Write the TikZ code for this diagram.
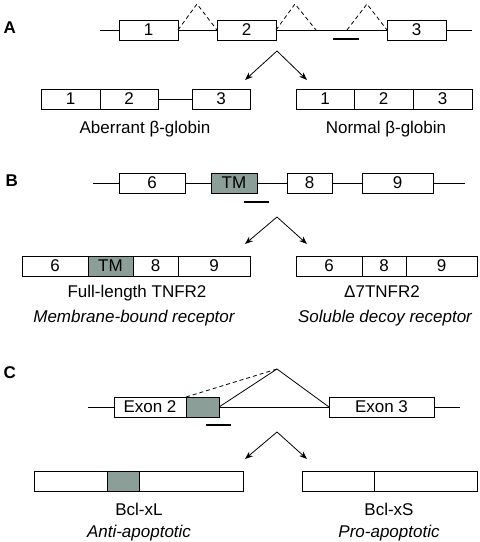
\documentclass[tikz,border=0pt]{standalone}
\usepackage{fontspec}
\setmainfont{Liberation Sans}
\usepackage{tikz}
\usetikzlibrary{arrows.meta}
\usetikzlibrary{positioning}
\definecolor{tmgray}{RGB}{140,158,152}
\tikzset{
    exon/.style={
        draw,
        rectangle,
        fill=white,
        minimum height=20pt,
        inner sep=0pt,
        outer sep=0pt,
        line width=0.9pt,
        font=\fontsize{17}{20}\selectfont
    },
    tmexon/.style={exon, fill=tmgray},
    panel/.style={font=\fontsize{17}{20}\selectfont\bfseries},
    caption/.style={anchor=base, font=\fontsize{17}{20}\selectfont},
    role/.style={anchor=base, font=\fontsize{17}{20}\selectfont\itshape},
    splice/.style={line width=0.8pt, dash pattern=on 4pt off 3pt},
    probe/.style={line width=2pt},
    branch/.style={-{Stealth[length=8pt, width=6pt]}, line width=0.8pt}
}

\begin{document}
\begin{tikzpicture}[x=1pt, y=-1pt, line width=0.8pt]
  \useasboundingbox (0,0) rectangle (480,542);

  % Panel A: beta-globin
  \node[panel, anchor=base west] (labA) at (0,33) {A};
  \coordinate (A0) at (100,30);
  \coordinate (A9) at (472,30);
  \draw (A0) -- (A9);
  \node[exon, minimum width=59pt] (a1) at (148.5,30) {1};
  \node[exon, minimum width=59pt] (a2) at (246.5,30) {2};
  \node[exon, minimum width=59pt] (a3) at (416.5,30) {3};

  \coordinate (pA1) at (197,4);
  \coordinate (pA2) at (295,4);
  \coordinate (pA3) at (367,4);
  \coordinate (cryA) at (316,30);
  \coordinate (cryB) at (347,30);
  \draw[splice] (a1.east) -- (pA1) -- (a2.west);
  \draw[splice] (a2.east) -- (pA2) -- (cryA);
  \draw[splice] (cryB) -- (pA3) -- (a3.west);
  \draw[probe] (333,39) -- (359,39);

  \coordinate (splitA) at (277,51);
  \coordinate (leftA) at (245,80);
  \coordinate (rightA) at (307,80);
  \draw[branch] (splitA) -- (leftA);
  \draw[branch] (splitA) -- (rightA);

  \node[exon, minimum width=59pt] (ab1) at (70.5,99) {1};
  \node[exon, minimum width=58pt, right=0pt of ab1] (ab2) {2};
  \node[exon, minimum width=58pt] (ab3) at (221,99) {3};
  \draw (ab2) -- (ab3);

  \node[exon, minimum width=58pt] (an1) at (325,99) {1};
  \node[exon, minimum width=59pt, right=0pt of an1] (an2) {2};
  \node[exon, minimum width=59pt, right=0pt of an2] (an3) {3};

  \node[caption] (capAb) at (145,133) {Aberrant β-globin};
  \node[caption] (capAn) at (386,133) {Normal β-globin};

  % Panel B: TNFR2
  \node[panel, anchor=base west] (labB) at (2,186) {B};
  \coordinate (B0) at (93,183);
  \coordinate (B9) at (465,183);
  \draw (B0) -- (B9);
  \node[exon, minimum width=66pt] (b6) at (152,183) {6};
  \node[tmexon, minimum width=46pt] (btm) at (234,183) {TM};
  \node[exon, minimum width=45pt] (b8) at (309.5,183) {8};
  \node[exon, minimum width=71pt] (b9) at (397.5,183) {9};
  \draw[probe] (244,202) -- (269,202);

  \coordinate (splitB) at (277,217);
  \coordinate (leftB) at (245,244);
  \coordinate (rightB) at (307,244);
  \draw[branch] (splitB) -- (leftB);
  \draw[branch] (splitB) -- (rightB);

  \node[exon, minimum width=66pt] (bf6) at (55,266) {6};
  \node[tmexon, minimum width=45pt, right=0pt of bf6] (bftm) {TM};
  \node[exon, minimum width=45pt, right=0pt of bftm] (bf8) {8};
  \node[exon, minimum width=72pt, right=0pt of bf8] (bf9) {9};

  \node[exon, minimum width=66pt] (bd6) at (329,266) {6};
  \node[exon, minimum width=44pt, right=0pt of bd6] (bd8) {8};
  \node[exon, minimum width=71pt, right=0pt of bd8] (bd9) {9};

  \node[caption] (capBf) at (137,297) {Full-length TNFR2};
  \node[caption] (capBd) at (382,297) {Δ7TNFR2};
  \node[role] (roleBf) at (134,322) {Membrane-bound receptor};
  \node[role] (roleBd) at (385,322) {Soluble decoy receptor};

  % Panel C: Bcl-x
  \node[panel, anchor=base west] (labC) at (0,378) {C};
  \coordinate (C0) at (88,407);
  \coordinate (C9) at (460,407);
  \draw (C0) -- (C9);
  \node[exon, minimum width=72pt] (c2) at (150,407) {Exon 2};
  \node[tmexon, minimum width=33pt, right=0pt of c2] (ctm) {};
  \node[exon, minimum width=105pt] (c3) at (381.5,407) {Exon 3};

  \coordinate (pC) at (277,369);
  \draw[splice] (c2.north east) -- (pC);
  \draw (ctm.east) -- (pC) -- (c3.west);
  \draw[probe] (206,425) -- (231,425);

  \coordinate (splitC) at (277,432);
  \coordinate (leftC) at (245,459);
  \coordinate (rightC) at (307,459);
  \draw[branch] (splitC) -- (leftC);
  \draw[branch] (splitC) -- (rightC);

  \node[exon, minimum width=73pt] (cl1) at (70.5,481.5) {};
  \node[tmexon, minimum width=32pt, right=0pt of cl1] (cltm) {};
  \node[exon, minimum width=104pt, right=0pt of cltm] (cl2) {};

  \node[exon, minimum width=72pt] (cs1) at (338,481.5) {};
  \node[exon, minimum width=103pt, right=0pt of cs1] (cs2) {};

  \node[caption] (capCl) at (139,515) {Bcl-xL};
  \node[caption] (capCs) at (389,515) {Bcl-xS};
  \node[role] (roleCl) at (139,537) {Anti-apoptotic};
  \node[role] (roleCs) at (389,537) {Pro-apoptotic};
\end{tikzpicture}
\end{document}
